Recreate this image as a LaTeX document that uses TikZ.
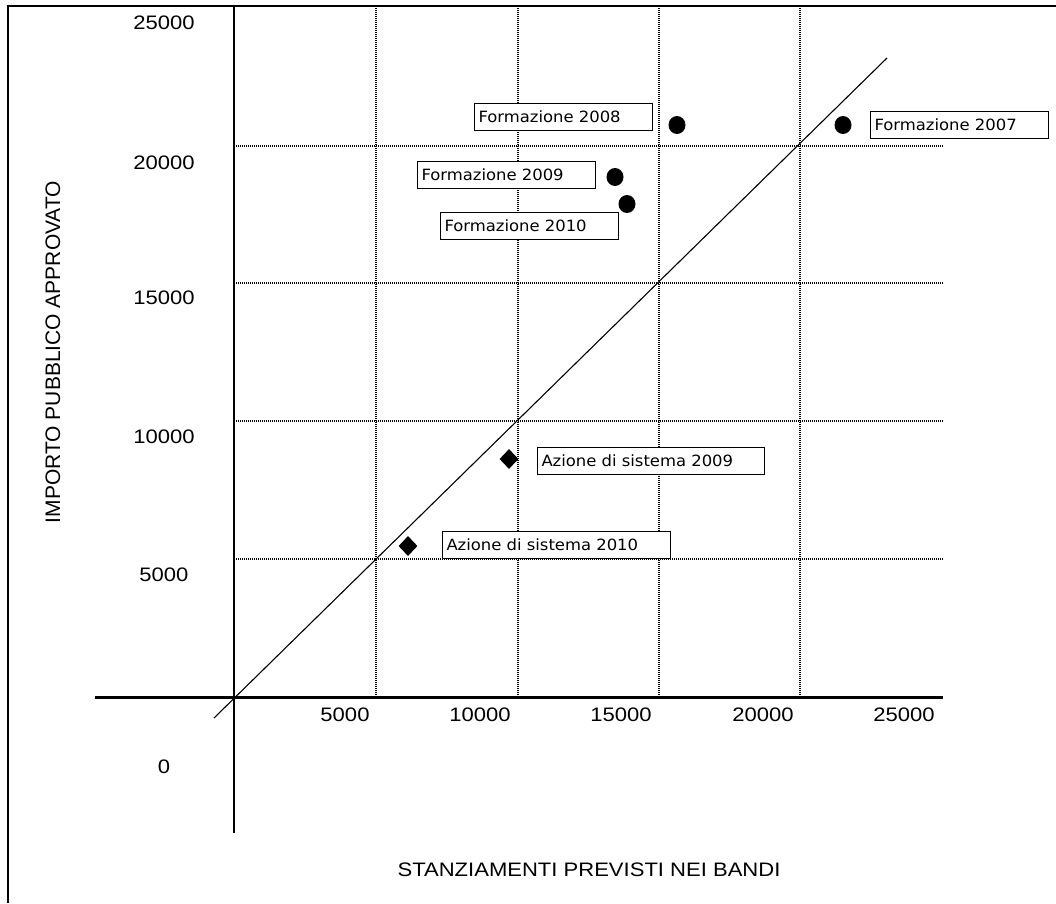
\documentclass[tikz,border=0pt]{standalone}
\usepackage{fontspec}
\setmainfont{Liberation Sans}
\newfontfamily\axisfont[FakeStretch=1.13]{Liberation Sans}
\newfontfamily\boxfont[FakeStretch=1.06]{DejaVu Sans}
\usetikzlibrary{shapes.geometric}
\tikzset{
  gridline/.style={line width=1.6pt, dash pattern=on 1pt off 1pt},
  ticklbl/.style={font=\axisfont\fontsize{19.5}{22}\selectfont, inner sep=0pt},
  dotmark/.style={ellipse, fill, minimum width=17pt, minimum height=18pt, inner sep=0pt},
  gemmark/.style={diamond, fill, minimum width=19pt, minimum height=20pt, inner sep=0pt},
  yearbox/.style={draw, fill=white, line width=1pt, anchor=west, font=\boxfont\fontsize{15.5}{17}\selectfont,
    minimum height=27pt, inner xsep=4pt, align=left, text width=#1}
}
\begin{document}
\begin{tikzpicture}[x=1pt,y=-1pt]
        \useasboundingbox (0,0) rectangle (1056,903);
        % frame
        \draw[line width=2pt] (8,903) |- (1056,6);
        % grid
        \foreach \gx in {376,518,659,800}
            \draw[gridline] (\gx,6) -- (\gx,697);
        \foreach \gy in {146,283,421,559}
            \draw[gridline] (234,\gy) -- (943,\gy);
        % axes
        \coordinate (ytop) at (234,6);
        \coordinate (ybot) at (234,833);
        \coordinate (xleft) at (95,697);
        \coordinate (xright) at (943,697);
        \draw[line width=2pt] (ytop) -- (ybot);
        \draw[line width=3pt] (xleft) -- (xright);
        \coordinate (dlow) at (214,718);
        \coordinate (dhigh) at (887,58);
        \draw[line width=1.1pt] (dlow) -- (dhigh);
        % ticks
        \foreach \v/\y in {25000/23,20000/163,15000/298,10000/437,5000/575,0/767}
            \node[ticklbl] (y\v) at (164,\y) {\v};
        \foreach \v/\x in {5000/345,10000/480,15000/621,20000/763,25000/904}
            \node[ticklbl] (x\v) at (\x,715) {\v};
        \node[font=\fontsize{21}{24}\selectfont, rotate=90] (ytitle) at (53,352) {IMPORTO PUBBLICO APPROVATO};
        \node[ticklbl] (xtitle) at (589,870) {STANZIAMENTI PREVISTI NEI BANDI};
        % points
        \node[dotmark] (p2007) at (843,125) {};
        \node[dotmark] (p2008) at (677,125) {};
        \node[dotmark] (p2009) at (615,177) {};
        \node[dotmark] (p2010) at (627,204) {};
        \node[gemmark] (a2009) at (509,459) {};
        \node[gemmark] (a2010) at (408,546) {};
        \node[yearbox=170pt] (f2007) at (870,124.5) {Formazione 2007};
        \node[yearbox=170pt] (f2008) at (474,116.5) {Formazione 2008};
        \node[yearbox=170pt] (f2009) at (417,175) {Formazione 2009};
        \node[yearbox=170pt] (f2010) at (440,226) {Formazione 2010};
        \node[yearbox=219pt] (s2009) at (537,460.5) {Azione di sistema 2009};
        \node[yearbox=220pt] (s2010) at (442,544.5) {Azione di sistema 2010};
\end{tikzpicture}
\end{document}
